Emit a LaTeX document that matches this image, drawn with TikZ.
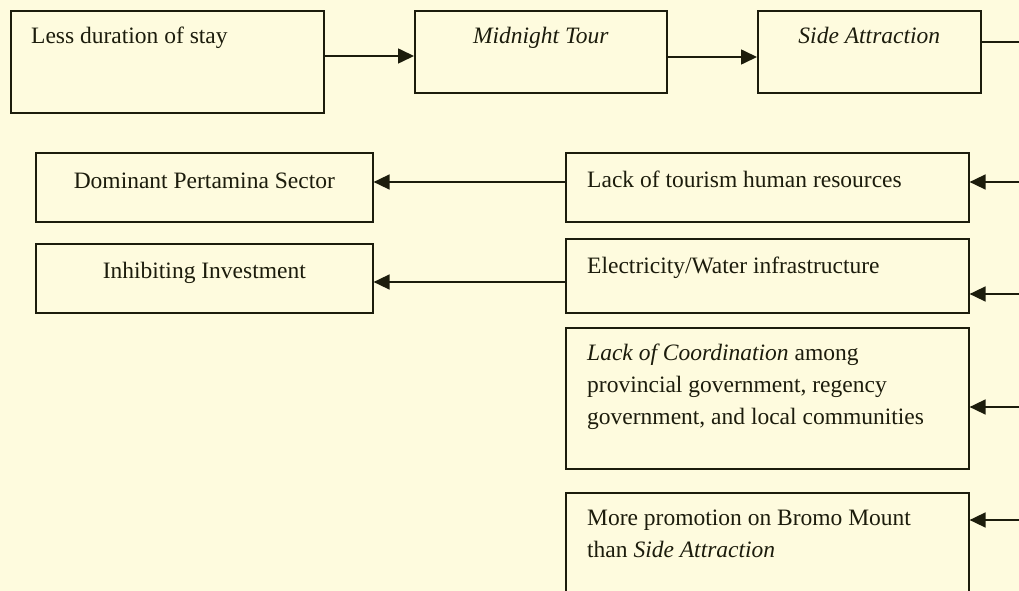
\documentclass[tikz,border=0pt]{standalone}
\usepackage{fontspec}
\setmainfont{Liberation Serif}
\usetikzlibrary{arrows.meta,calc}
\definecolor{bgc}{RGB}{254,251,222}
\definecolor{ink}{RGB}{28,28,12}
\tikzset{
  box/.style={draw=ink, line width=1.6pt, inner sep=0pt, anchor=north west},
  txt/.style={inner sep=0pt, text=ink, font=\fontsize{23.5}{32}\selectfont},
  arr/.style={draw=ink, line width=1.6pt, -{Triangle[length=16pt,width=15pt]}},
  ln/.style={draw=ink, line width=1.6pt}
}
\begin{document}
\begin{tikzpicture}[x=1pt,y=-1pt]
\fill[bgc] (0,0) rectangle (1019,591);
\useasboundingbox (0,0) rectangle (1019,591);

% top row
\node[box, minimum width=313pt, minimum height=102pt] (b1) at (10,10) {};
\node[box, minimum width=252pt, minimum height=82pt] (b2) at (414,10) {};
\node[box, minimum width=223pt, minimum height=82pt] (b3) at (757,10) {};
\node[txt, anchor=base west] (t1) at ($(b1.north west)+(21,34)$) {Less duration of stay};
\node[txt, anchor=base] (t2) at ($(b2.north)+(0,34)$) {\itshape Midnight Tour};
\node[txt, anchor=base] (t3) at ($(b3.north)+(0,34)$) {\itshape Side Attraction};

% left column
\node[box, minimum width=337pt, minimum height=69pt] (dom) at (35,152) {};
\node[box, minimum width=337pt, minimum height=69pt] (inh) at (35,243) {};
\node[txt, anchor=base] (tdom) at ($(dom.north)+(0,36)$) {Dominant Pertamina Sector};
\node[txt, anchor=base] (tinh) at ($(inh.north)+(0,35)$) {Inhibiting Investment};

% right column
\node[box, minimum width=403pt, minimum height=69pt] (lack) at (565,152) {};
\node[box, minimum width=403pt, minimum height=74pt] (elec) at (565,238) {};
\node[box, minimum width=403pt, minimum height=141pt] (coord) at (565,327) {};
\node[box, minimum width=403pt, minimum height=120pt] (promo) at (565,492) {};
\node[txt, anchor=base west] (tlack) at ($(lack.north west)+(22,35)$) {Lack of tourism human resources};
\node[txt, anchor=base west] (telec) at ($(elec.north west)+(22,35)$) {Electricity/Water infrastructure};
\node[txt, anchor=base west] (tcoord) at ($(coord.north west)+(22,33)$) {\parbox[t]{380pt}{\raggedright \textit{Lack of Coordination} among\\ provincial government, regency\\ government, and local communities}};
\node[txt, anchor=base west] (tpromo) at ($(promo.north west)+(22,33)$) {\parbox[t]{380pt}{\raggedright More promotion on Bromo Mount\\ than \textit{Side Attraction}}};

% free ends at the right edge
\coordinate (e0) at (1030,42);
\coordinate (e1) at (1030,182);
\coordinate (e2) at (1030,294);
\coordinate (e3) at (1030,407);
\coordinate (e4) at (1030,520);

% connectors
\draw[arr] ([yshift=-46pt]b1.north east) -- ([yshift=-46pt]b2.north west);
\draw[arr] ([yshift=-47pt]b2.north east) -- ([yshift=-47pt]b3.north west);
\draw[ln] (b3.east |- e0) -- (e0);
\draw[arr] (e1) -- (lack.east |- e1);
\draw[arr] (e2) -- (elec.east |- e2);
\draw[arr] (e3) -- (coord.east |- e3);
\draw[arr] (e4) -- (promo.east |- e4);
\draw[arr] ([yshift=-30pt]lack.north west) -- ([yshift=-30pt]dom.north east);
\draw[arr] ([yshift=-44pt]elec.north west) -- ([yshift=-39pt]inh.north east);
\end{tikzpicture}
\end{document}
